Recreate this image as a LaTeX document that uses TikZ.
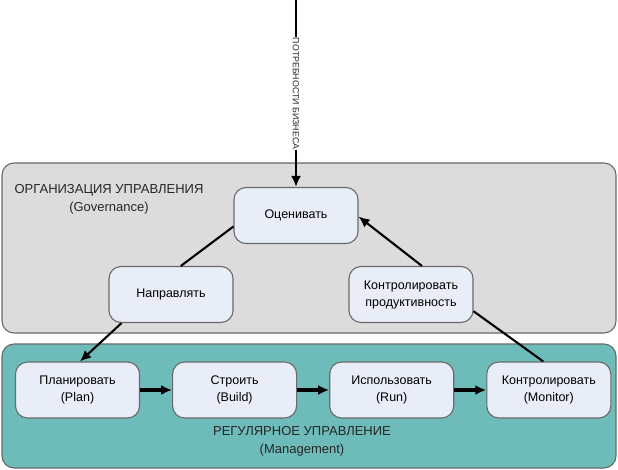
\documentclass[tikz,border=0pt]{standalone}
\usepackage{fontspec}
\setmainfont{Liberation Sans}
\usetikzlibrary{positioning,arrows.meta}

\definecolor{govgray}{RGB}{220,220,220}
\definecolor{mgmtteal}{RGB}{110,188,186}
\definecolor{stepfill}{RGB}{233,237,247}
\definecolor{edgegray}{RGB}{105,105,105}

\begin{document}
\begin{tikzpicture}[x=1pt,y=-1pt,>={Latex[length=11pt,width=10pt]},
                line width=2.1pt,node distance=32pt]
        \tikzstyle{region}=[draw=edgegray,line width=1.1pt,rounded corners=12pt,inner sep=0pt]
        \tikzstyle{process}=[draw=edgegray,line width=1.1pt,fill=stepfill,rounded corners=12pt,
                minimum width=124pt,minimum height=56pt,align=center,font=\fontsize{12.5}{17}\selectfont]
        \tikzstyle{caption}=[align=center,font=\fontsize{13}{18}\selectfont,text=black!85]

        \useasboundingbox (0,0) rectangle (618,470);

        \node[region,fill=govgray,minimum width=614pt,minimum height=170pt] (gov) at (309,248) {};
        \node[region,fill=mgmtteal,minimum width=614pt,minimum height=124pt] (mgmt) at (309,406) {};

        \node[caption] (govlabel) at (109,199) {ОРГАНИЗАЦИЯ УПРАВЛЕНИЯ\\(Governance)};
        \node[caption] (mgmtlabel) at (302,441) {РЕГУЛЯРНОЕ УПРАВЛЕНИЕ\\(Management)};

        \node[process] (eval)   at (296,215.5) {Оценивать};
        \node[process] (direct) at (171,294.5) {Направлять};
        \node[process] (perf)   at (411,294.5) {Контролировать\\продуктивность};

        \node[process] (plan)    at (77.5,390)    {Планировать\\(Plan)};
        \node[process] (build)   [right=of plan]  {Строить\\(Build)};
        \node[process] (run)     [right=of build] {Использовать\\(Run)};
        \node[process] (monitor) [right=of run]   {Контролировать\\(Monitor)};

        \coordinate (needs) at (296,0);

        \draw[->,line width=2.6pt] (needs) -- node[rotate=-90,fill=white,inner sep=1pt,
                font=\fontsize{8.8}{10}\selectfont,text=black!85] {ПОТРЕБНОСТИ БИЗНЕСА} (eval);

        \draw (eval.190) -- (direct.71);
        \draw[->] (direct.210) -- (plan.85);
        \draw (monitor.101) -- (perf.345);
        \draw[->] (perf.69) -- (eval.359);

        \begin{scope}[line width=3.5pt]
        \draw[->] (plan) -- (build);
        \draw[->] (build) -- (run);
        \draw[->] (run) -- (monitor);
        \end{scope}

\end{tikzpicture}
\end{document}
